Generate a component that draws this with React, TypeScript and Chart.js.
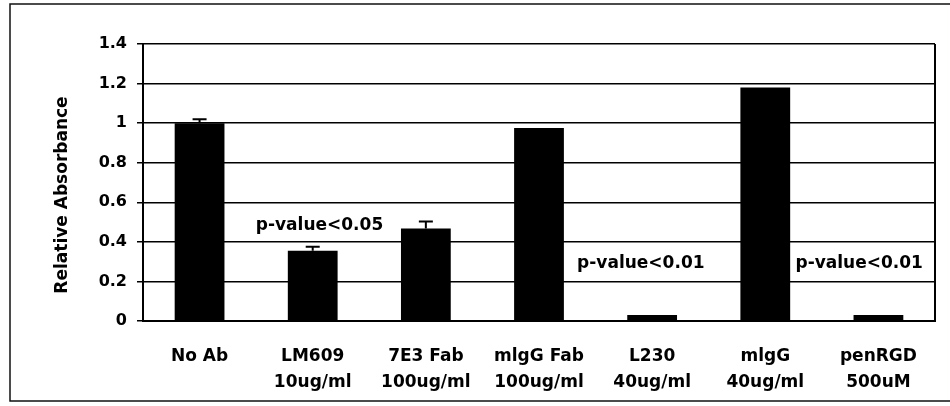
import React, { useEffect, useRef } from "react";
import { Chart, registerables } from "chart.js";

Chart.register(...registerables);

const categories: string[][] = [
  ["No Ab", ""],
  ["LM609", "10ug/ml"],
  ["7E3 Fab", "100ug/ml"],
  ["mlgG Fab", "100ug/ml"],
  ["L230", "40ug/ml"],
  ["mlgG", "40ug/ml"],
  ["penRGD", "500uM"],
];
const absorbance: number[] = [1.0, 0.355, 0.468, 0.975, 0.03, 1.18, 0.03];
const errors: number[] = [0.02, 0.02, 0.035, 0, 0, 0, 0];

const yTicksMin = 0;
const yTicksMax = 1.4;
const yTicksStep = 0.2;
const yTitle = "Relative Absorbance";

const annotationTexts: string[] = ["p-value<0.05", "p-value<0.01", "p-value<0.01"];
const annotationCategoryPos: number[] = [1.06, 3.9, 5.83];
const annotationValues: number[] = [0.48, 0.29, 0.29];

const FONT = "'DejaVu Sans', sans-serif";

const decorPlugin = {
  id: "decor",
  afterDatasetsDraw(chart: any) {
    const { ctx, chartArea, scales } = chart;
    const x = scales.x;
    const y = scales.y;
    ctx.save();
    // outer frame
    ctx.strokeStyle = "#111";
    ctx.lineWidth = 1.5;
    ctx.beginPath();
    ctx.moveTo(960, 4);
    ctx.lineTo(10, 4);
    ctx.lineTo(10, 401);
    ctx.lineTo(960, 401);
    ctx.stroke();
    // plot right border
    ctx.lineWidth = 2;
    ctx.strokeStyle = "#000";
    ctx.beginPath();
    ctx.moveTo(chartArea.right, chartArea.top);
    ctx.lineTo(chartArea.right, chartArea.bottom);
    ctx.stroke();
    // error bars
    const meta = chart.getDatasetMeta(0);
    meta.data.forEach((bar: any, i: number) => {
      const e = errors[i];
      if (!e) return;
      const cx = bar.x;
      const top = y.getPixelForValue(absorbance[i] + e);
      const base = y.getPixelForValue(absorbance[i]);
      ctx.lineWidth = 2;
      ctx.beginPath();
      ctx.moveTo(cx, base);
      ctx.lineTo(cx, top);
      ctx.moveTo(cx - 7, top);
      ctx.lineTo(cx + 7, top);
      ctx.stroke();
    });
    // annotations
    ctx.fillStyle = "#000";
    ctx.font = `bold 17px ${FONT}`;
    ctx.textAlign = "center";
    ctx.textBaseline = "middle";
    annotationTexts.forEach((t, i) => {
      const px = x.getPixelForValue(annotationCategoryPos[i]);
      const py = y.getPixelForValue(annotationValues[i]);
      ctx.fillText(t, px, py);
    });
    // y title
    ctx.font = `bold 17px ${FONT}`;
    ctx.translate(63, 195);
    ctx.rotate(-Math.PI / 2);
    ctx.fillText(yTitle, 0, 0);
    ctx.restore();
  },
};

export default function App() {
  const ref = useRef<HTMLCanvasElement | null>(null);
  useEffect(() => {
    if (!ref.current) return;
    const chart = new Chart(ref.current, {
      type: "bar",
      data: {
        labels: categories,
        datasets: [
          {
            data: absorbance,
            backgroundColor: "#000",
            borderWidth: 0,
            barPercentage: 0.44,
            categoryPercentage: 1,
          },
        ],
      },
      options: {
        animation: false,
        responsive: false,
        layout: { padding: { left: 0, top: 44, right: 15, bottom: 0 } },
        plugins: { legend: { display: false }, tooltip: { enabled: false } },
        scales: {
          x: {
            grid: { display: false, drawTicks: false },
            border: { display: true, color: "#000", width: 2 },
            ticks: {
              color: "#000",
              font: { family: FONT, size: 17, weight: "bold", lineHeight: 1.55 },
              padding: 22,
              maxRotation: 0,
              autoSkip: false,
            },
            afterFit: (s: any) => {
              s.height = 85;
            },
          },
          y: {
            min: yTicksMin,
            max: yTicksMax,
            ticks: {
              stepSize: yTicksStep,
              color: "#000",
              font: { family: FONT, size: 16, weight: "bold" },
              padding: 10,
              callback: (v: any) => String(Number(Number(v).toFixed(1))),
            },
            grid: { color: "#000", lineWidth: 1.5, tickLength: 6, drawTicks: true },
            border: { display: true, color: "#000", width: 2 },
            afterFit: (s: any) => {
              s.width = 143;
            },
          },
        },
      },
      plugins: [decorPlugin],
    });
    return () => chart.destroy();
  }, []);
  return (
    <div style={{ position: "fixed", left: 0, top: 0, width: 950, height: 406, background: "#fff" }}>
      <canvas ref={ref} width={950} height={406} style={{ width: 950, height: 406 }} />
    </div>
  );
}
